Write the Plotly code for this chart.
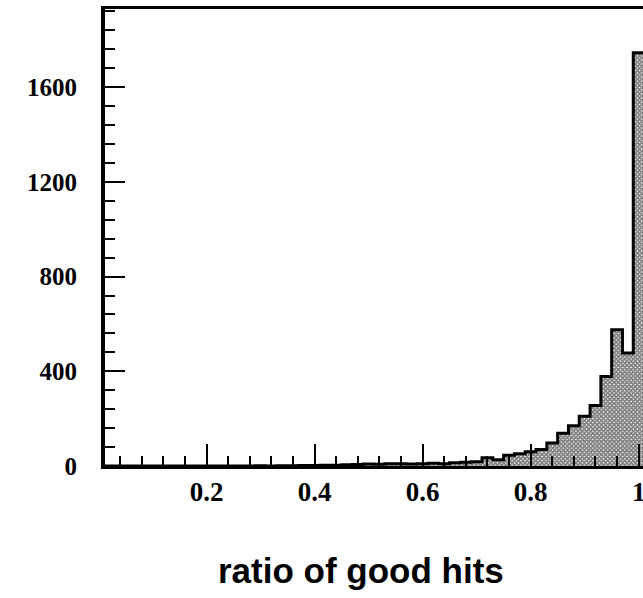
import plotly.graph_objects as go

bin_width = 0.02
bin_centers = [0.02, 0.04, 0.06, 0.08, 0.10, 0.12, 0.14, 0.16, 0.18, 0.20,
               0.22, 0.24, 0.26, 0.28, 0.30, 0.32, 0.34, 0.36, 0.38, 0.40,
               0.42, 0.44, 0.46, 0.48, 0.50, 0.52, 0.54, 0.56, 0.58, 0.60,
               0.62, 0.64, 0.66, 0.68, 0.70, 0.72, 0.74, 0.76, 0.78, 0.80,
               0.82, 0.84, 0.86, 0.88, 0.90, 0.92, 0.94, 0.96, 0.98, 1.00]
counts = [0, 0, 0, 0, 0, 0, 0, 0, 0, 0,
          0, 0, 0, 0, 1, 0, 1, 1, 2, 2,
          3, 3, 5, 6, 8, 7, 9, 10, 8, 10,
          12, 10, 14, 16, 18, 35, 26, 45, 52, 60,
          70, 97, 138, 170, 210, 255, 378, 575, 477, 1745]

x_tickvals = [0.2, 0.4, 0.6, 0.8, 1.0]
x_ticktext = ["0.2", "0.4", "0.6", "0.8", "1"]
y_tickvals = [0, 400, 800, 1200, 1600]
y_ticktext = ["0", "400", "800", "1200", "1600"]
x_title = "ratio of good hits"

# histogram step outline built from the bins
edges = [c - bin_width / 2 for c in bin_centers] + [bin_centers[-1] + bin_width / 2]
step_y = counts + [counts[-1]]

fig = go.Figure()
fig.add_trace(go.Scatter(
    x=edges, y=step_y, mode="lines",
    line=dict(shape="hv", color="black", width=3),
    fill="tozeroy", fillcolor="white",
    fillpattern=dict(shape="x", fgcolor="black", bgcolor="white",
                     size=3, solidity=0.8),
    showlegend=False, hoverinfo="skip",
))

xtickfont = dict(family="Liberation Serif", size=27, color="black", weight="bold")
ytickfont = dict(family="Liberation Serif", size=25, color="black", weight="bold")

L, T, R, B = 105, 9, 0, 132
fig.update_layout(
    width=643, height=598,
    margin=dict(l=L, r=R, t=T, b=B, autoexpand=False),
    plot_bgcolor="white", paper_bgcolor="white",
    xaxis=dict(range=[0.012, 1.008], showgrid=False, zeroline=False, automargin=False,
               showline=True, linecolor="black", linewidth=3, mirror=True,
               tickmode="array", tickvals=x_tickvals, ticktext=x_ticktext,
               ticks="inside", ticklen=22, tickwidth=2, tickcolor="black",
               tickfont=xtickfont, ticklabelstandoff=0, ticklabeloverflow="allow",
               minor=dict(ticks="inside", ticklen=10, tickwidth=2, tickcolor="black",
                          dtick=0.04, tick0=0)),
    yaxis=dict(range=[0, 1930], showgrid=False, zeroline=False, automargin=False,
               showline=True, linecolor="black", linewidth=4,
               tickmode="array", tickvals=y_tickvals, ticktext=y_ticktext,
               ticks="inside", ticklen=20, tickwidth=2, tickcolor="black",
               tickfont=ytickfont, ticklabelstandoff=19,
               minor=dict(ticks="inside", ticklen=10, tickwidth=2, tickcolor="black",
                          dtick=80, tick0=0)),
    annotations=[dict(text=x_title, xref="paper", yref="paper",
                      x=(361 - L) / (643 - L - R), y=-(570 - 466) / (598 - T - B),
                      xanchor="center", yanchor="middle", showarrow=False,
                      font=dict(family="Liberation Sans", size=35, color="black",
                                weight="bold"))],
)

fig.write_html(
    "out.html",
    config={"displayModeBar": False},
    post_script="document.body.style.margin='0';document.body.style.overflow='hidden';",
)
